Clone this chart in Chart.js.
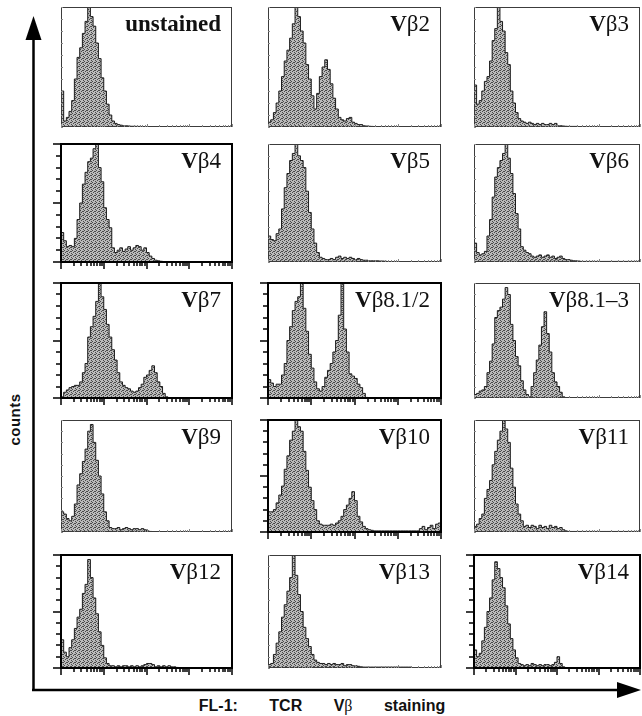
<!DOCTYPE html>
<html>
<head>
<meta charset="utf-8">
<script src="https://cdn.jsdelivr.net/npm/chart.js@4.4.0/dist/chart.umd.min.js"></script>
<style>
  html, body { margin: 0; padding: 0; background: #fff; }
  body { width: 642px; height: 716px; position: relative; overflow: hidden; }
  canvas.panel { position: absolute; }
  .lbl {
    position: absolute; white-space: nowrap; color: #111;
    font-family: 'Liberation Serif', 'DejaVu Serif', serif;
    font-size: 23px; line-height: 23px;
  }
  #axes { position: absolute; left: 0; top: 0; }
  #ylab {
    position: absolute; left: -16px; top: 412px; width: 60px; height: 15px;
    text-align: center; transform: rotate(-90deg);
    font-family: 'Liberation Sans', Arial, sans-serif; font-weight: bold;
    font-size: 15px; line-height: 15px; letter-spacing: 0.5px; color: #111;
  }
  #xlab {
    position: absolute; left: 142px; top: 698px; width: 360px; text-align: center;
    font-family: 'Liberation Sans', Arial, sans-serif; font-weight: bold;
    font-size: 16px; line-height: 16px; word-spacing: 27px; color: #111;
  }
  #xlab .gk { font-family: 'Liberation Serif', serif; font-weight: normal; }
</style>
</head>
<body>
<svg id="axes" width="642" height="716">
  <line x1="33.5" y1="691" x2="33.5" y2="36" stroke="#000" stroke-width="2.5"/>
  <polygon points="33.5,16 25.5,40 41.5,40" fill="#000"/>
  <line x1="32" y1="690" x2="620" y2="690" stroke="#000" stroke-width="2.5"/>
  <polygon points="641,690 617,682 617,698" fill="#000"/>
</svg>
<div id="ylab">counts</div>
<div id="xlab">FL-1: TCR V<span class="gk">β</span> staining</div>

<script>
// panel titles, left to right, top to bottom
const panelNames = ['unstained', 'Vβ2', 'Vβ3',
                    'Vβ4', 'Vβ5', 'Vβ6',
                    'Vβ7', 'Vβ8.1/2', 'Vβ8.1–3',
                    'Vβ9', 'Vβ10', 'Vβ11',
                    'Vβ12', 'Vβ13', 'Vβ14'];

// event counts per channel bin (64 log bins over 4 decades), % of panel max
const unstained = [30,5,8,13,22,40,58,66,78,88, 100,92,84,70,57,41,30,19,10,5,
  3,2,1.5,1,1,0.8,0.6,0.6,0.5,0.5, 0.4,0.4,0.4,0.3,0.3,0.3,0.3,0.3,0.3,0.3,
  0,0,0,0,0,0,0,0,0,0, 0,0,0,0,0,0,0,0,0,0, 0,0,0,0];
const vb2 = [4,6,12,20,30,42,55,64,74,86, 100,92,80,70,52,40,26,15,28,42,
  50,56,48,36,24,15,8,6,5,7, 8,4,3,2,2,1,0.8,0.6,0.5,0.4,
  0.3,0.3,0.3,0.3,0.3,0.3,0,0,0,0, 0,0,0,0,0,0,0,0,0,0, 0,0,0,0];
const vb3 = [35,19,22,30,38,42,55,72,82,100, 88,80,62,52,30,20,12,7,5,4,
  3,4,3,2,3,2,3,2,2,3, 2,3,1,1,0.8,0.6,0.5,0.5,0.5,0.5,
  0.4,0.4,0.4,0.4,0.4,0.4,0.4,0.4,0.4,0.4, 0.4,0.4,0.4,0.4,0.4,0.4,0.4,0.4,0.4,0.4, 0.4,0.4,0.4,0.4];
const vb4 = [25,18,13,14,13,20,36,50,66,76, 85,88,96,100,80,68,46,36,29,12,
  8,10,12,9,11,13,10,12,14,13, 10,12,8,5,3,1.5,1,0.6,0.4,0.4,
  0.4,0.4,0.4,0.4,0.4,0.4,0.4,0.4,0.4,0.4, 0.4,0.4,0.4,0.4,0.4,0.4,0.4,0.4,0.4,0.4, 0.4,0.4,0.4,0.4];
const vb5 = [22,19,18,24,28,45,63,75,86,92, 100,90,86,80,60,42,28,16,8,4,
  3,2,2,3,2,4,5,3,4,3, 4,3,2,3,2,1.5,1.5,1,1,1,
  1,0.8,0.8,0.6,0.4,0.4,0.4,0.4,0.4,0.4, 0.4,0.4,0.4,0.4,0.4,0.4,0.4,0.4,0.4,0.4, 0.4,0.4,0.4,0.4];
const vb6 = [16,8,6,7,9,22,36,55,72,80, 86,92,100,88,75,58,41,28,13,10,
  8,7,5,4,5,6,4,5,6,4, 5,3,4,5,3,2,2,1.5,1,1,
  0.8,0.5,0.5,0.5,0.5,0.5,0.5,0.5,0.5,0.5, 0.5,0.5,0.5,0.5,0.5,0.5,0.5,0.5,0.5,0.5, 0.5,0.5,0.5,0.5];
const vb7 = [1,5,7,9,10,11,11,14,22,30, 53,62,71,84,100,88,77,64,53,42,
  33,22,14,11,9,8,6,5,6,9, 12,18,20,24,28,22,14,10,4,1,
  0.3,0.3,0.3,0.3,0.3,0.3,0.3,0.3,0.3,0.3, 0.3,0.3,0.3,0.3,0.3,0.3,0.3,0.3,0.3,0.3, 0.3,0.3,0.3,0.3];
const vb81_2 = [16,13,10,12,12,20,30,50,62,76, 84,88,100,78,58,38,26,14,8,6,
  10,18,24,30,40,50,72,100,60,40, 21,19,17,12,9,4,0.5,0.3,0.3,0.3,
  0.3,0.3,0.3,0.3,0.3,0.3,0.3,0.3,0.3,0.3, 0.3,0.3,0.3,0.3,0.3,0.3,0.3,0.3,0.3,0.3, 0.3,0.3,0.3,0.3];
const vb81_3 = [3,4,6,7,10,22,32,47,70,76, 79,86,96,90,64,50,36,28,15,7,
  3,1,10,22,33,46,62,75,56,40, 22,14,10,5,1,0.3,0.3,0.3,0.3,0.3,
  0.3,0.3,0.3,0.3,0.3,0.3,0.3,0.3,0.3,0.3, 0.3,0.3,0.3,0.3,0.3,0.3,0.3,0.3,0.3,0.3, 0.3,0.3,0.3,0.3];
const vb9 = [18,16,12,10,14,25,42,52,63,74, 90,96,80,64,50,34,18,10,4,3,
  3,4,2,3,4,3,2,3,3,2, 3,2,1,0.5,0.3,0.3,0.3,0.3,0.3,0.3,
  0.3,0.3,0.3,0.3,0.3,0.3,0.3,0.3,0.3,0.3, 0.3,0.3,0.3,0.3,0.3,0.3,0.3,0.3,0.3,0.3, 0.3,0.3,0.3,0.3];
const vb10 = [18,18,20,26,33,41,56,68,82,90, 100,94,90,72,55,40,28,20,10,7,
  6,6,6,7,6,8,10,14,20,24, 30,36,28,14,9,5,3,2,1.5,1,
  1,1,1,1,1,1,1,1,1,1, 1,1,1,1,1,1,3,5,2,4, 6,3,7,8];
const vb11 = [5,7,12,16,30,38,46,60,72,82, 90,100,92,80,57,40,25,16,10,5,
  6,4,6,5,3,6,4,5,3,6, 4,5,3,4,2,1,0.5,0.5,0.5,0.5,
  0.5,0.5,0.5,0.5,0.5,0.5,0.5,0.5,0.5,0.5, 0.5,0.5,0.5,0.5,0.5,0.5,0.5,0.5,0.5,0.5, 0.5,0.5,0.5,0.5];
const vb12 = [25,14,10,18,25,35,45,52,66,74, 96,80,62,48,32,20,9,4,2,2,
  1,2,1,2,2,1,2,1,2,1, 2,3,4,4,3,1,2,1,2,1,
  2,1,1,0.5,0.3,0.3,0.3,0.3,0.3,0.3, 0.3,0.3,0.3,0.3,0.3,0.3,0.3,0.3,0.3,0.3, 0.3,0.3,0.3,0.3];
const vb13 = [3,4,12,22,32,45,56,68,80,100, 82,65,50,36,26,19,12,7,5,4,
  4,3,4,3,4,3,3,4,2,3, 3,2,2,1.5,1,0.8,0.8,0.8,0.8,0.8,
  0.8,0.8,0.8,0.8,0.8,0.8,0.8,0.8,0.8,0.8, 0.8,0.8,0.8,0.4,0.4,0.4,0.4,0.4,0.4,0.4, 0.4,0.4,0.4,0.4];
const vb14 = [16,10,13,24,36,50,62,78,94,88, 80,71,55,39,26,16,9,4,3,2,
  3,2,4,3,2,3,2,3,3,2, 3,5,10,4,1,0.3,0.3,0.3,0.3,0.3,
  0.3,0.3,0.3,0.3,0.3,0.3,0.3,0.3,0.3,0.3, 0.3,0.3,0.3,0.3,0.3,0.3,0.3,0.3,0.3,0.3, 0.3,0.3,0.3,0.3];

const panelData = [unstained, vb2, vb3, vb4, vb5, vb6, vb7, vb81_2, vb81_3,
                   vb9, vb10, vb11, vb12, vb13, vb14];

// FL-1 channel range (4 log decades) and count range
const flMin = 1, flMax = 10000;
const countMax = 100;

// layout of the 5 x 3 grid (frame edges in page pixels)
const cols = [[61, 232], [268, 441], [474, 640]];
const rows = [[7, 127], [144, 262], [283, 398], [420, 532], [555, 668]];
const heavyFrame = [3, 6, 7, 10, 12, 14];
const PADL = 9, PADT = 2, PADR = 2, PADB = 9;

function stipple() {
  const c = document.createElement('canvas');
  c.width = 4; c.height = 4;
  const g = c.getContext('2d');
  g.fillStyle = '#bababa';
  g.fillRect(0, 0, 4, 4);
  g.fillStyle = '#4a4a4a';
  [[0, 0], [2, 1], [1, 2], [3, 3], [3, 1]].forEach(p => g.fillRect(p[0], p[1], 1, 1));
  return g.createPattern(c, 'repeat');
}

const framePlugin = {
  id: 'frame',
  afterDatasetsDraw(chart, args, opts) {
    const ctx = chart.ctx;
    const a = chart.chartArea;
    const y = chart.scales.y;
    const fl = chart.scales.fl;
    const yTicks = [];
    for (let v = 0; v <= countMax; v += 10) yTicks.push(v);
    const xTicks = [];
    for (let d = flMin; d < flMax; d *= 10) {
      for (let m = 1; m < 10; m++) xTicks.push({ v: d * m, major: m === 1 });
    }
    xTicks.push({ v: flMax, major: true });

    ctx.save();
    if (opts.heavy) {
      ctx.strokeStyle = '#000';
      ctx.lineWidth = 2;
      ctx.strokeRect(a.left, a.top, a.right - a.left, a.bottom - a.top);
      ctx.lineWidth = 1.5;
      ctx.beginPath();
      yTicks.forEach(v => {
        const py = Math.round(y.getPixelForValue(v));
        const len = v % 50 === 0 ? 8 : 5;
        ctx.moveTo(a.left, py);
        ctx.lineTo(a.left - len, py);
      });
      xTicks.forEach(t => {
        const px = Math.round(fl.getPixelForValue(t.v));
        ctx.moveTo(px, a.bottom);
        ctx.lineTo(px, a.bottom + (t.major ? 7 : 4));
      });
      ctx.stroke();
    } else {
      ctx.strokeStyle = '#3c3c3c';
      ctx.lineWidth = 1;
      ctx.strokeRect(a.left + 0.5, a.top + 0.5, a.right - a.left - 1, a.bottom - a.top - 1);
      ctx.strokeStyle = '#888';
      ctx.beginPath();
      yTicks.forEach(v => {
        const py = Math.round(y.getPixelForValue(v)) + 0.5;
        ctx.moveTo(a.left, py);
        ctx.lineTo(a.left + 2, py);
      });
      xTicks.forEach(t => {
        const px = Math.round(fl.getPixelForValue(t.v)) + 0.5;
        ctx.moveTo(px, a.bottom);
        ctx.lineTo(px, a.bottom - (t.major ? 3 : 2));
      });
      ctx.stroke();
    }
    ctx.restore();
  }
};

const fillPattern = stipple();

panelData.forEach((counts, i) => {
  const [x0, x1] = cols[i % 3];
  const [y0, y1] = rows[Math.floor(i / 3)];
  const cv = document.createElement('canvas');
  cv.className = 'panel';
  cv.width = x1 - x0 + PADL + PADR;
  cv.height = y1 - y0 + PADT + PADB;
  cv.style.left = (x0 - PADL) + 'px';
  cv.style.top = (y0 - PADT) + 'px';
  document.body.appendChild(cv);

  const pts = counts.map((v, k) => ({ x: k, y: v }));
  pts.push({ x: counts.length, y: counts[counts.length - 1] });

  new Chart(cv.getContext('2d'), {
    type: 'line',
    data: {
      datasets: [{
        data: pts,
        stepped: true,
        fill: 'origin',
        backgroundColor: fillPattern,
        borderColor: '#1c1c1c',
        borderWidth: 1,
        pointRadius: 0
      }]
    },
    options: {
      responsive: false,
      animation: false,
      devicePixelRatio: 1,
      layout: { padding: { left: PADL, top: PADT, right: PADR, bottom: PADB } },
      plugins: {
        legend: { display: false },
        tooltip: { enabled: false },
        frame: { heavy: heavyFrame.includes(i) }
      },
      scales: {
        x: { type: 'linear', min: 0, max: counts.length, display: false },
        y: { type: 'linear', min: 0, max: countMax, display: false },
        fl: { type: 'logarithmic', axis: 'x', position: 'bottom', min: flMin, max: flMax, display: false }
      }
    },
    plugins: [framePlugin]
  });

  const lbl = document.createElement('div');
  lbl.className = 'lbl';
  const name = panelNames[i];
  lbl.innerHTML = name.startsWith('V') ? '<b>V</b>' + name.slice(1) : '<b>' + name + '</b>';
  lbl.style.right = (642 - (x1 - 11)) + 'px';
  lbl.style.top = (y0 + 5) + 'px';
  document.body.appendChild(lbl);
});
</script>
</body>
</html>
